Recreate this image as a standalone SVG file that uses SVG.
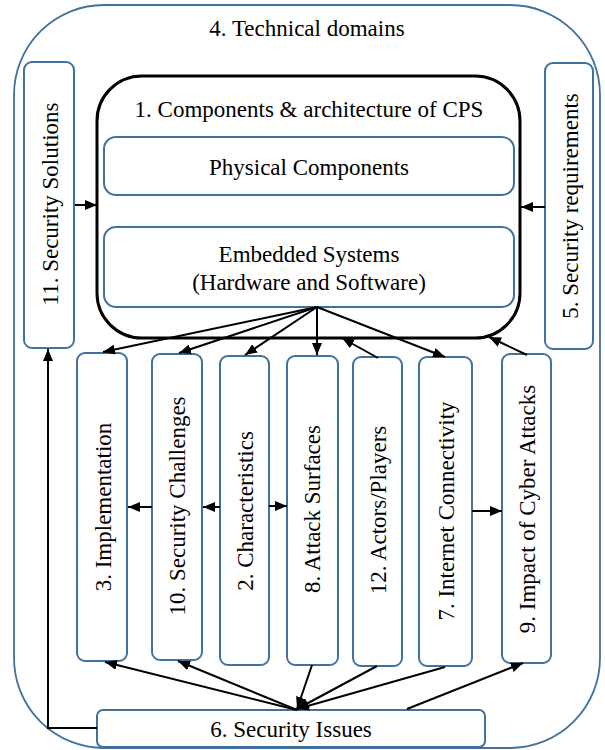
<svg xmlns="http://www.w3.org/2000/svg" width="605" height="750" viewBox="0 0 605 750">
<style>
text{font-family:'Liberation Serif','DejaVu Serif',serif;font-size:23px;fill:#000;text-anchor:middle}
.b{fill:#fff;stroke:#41719C;stroke-width:2}
.c{fill:none;stroke:#000;stroke-width:2}
</style>
<defs>
<marker id="ah" markerUnits="userSpaceOnUse" markerWidth="12" markerHeight="10" refX="12" refY="5" orient="auto">
<path d="M0,0 L12,5 L0,10 z" fill="#000"/>
</marker>
</defs>
<rect width="605" height="750" fill="#fff"/>
<g id="technical-domains">
<rect x="14" y="5" width="586" height="743" rx="90" ry="90" fill="#fff" stroke="#41719C" stroke-width="1.8"/>
<text x="307" y="36">4. Technical domains</text>
</g>
<g id="security-solutions">
<rect class="b" x="24" y="62" width="50" height="286" rx="8"/>
<text transform="translate(58,204) rotate(-90)">11. Security Solutions</text>
</g>
<g id="security-requirements">
<rect class="b" x="545" y="63" width="48" height="286" rx="8"/>
<text transform="translate(578,206) rotate(-90)">5. Security requirements</text>
</g>
<g id="cps">
<rect x="97" y="76" width="423" height="262" rx="45" ry="45" fill="#fff" stroke="#000" stroke-width="3"/>
<text x="309" y="117">1. Components &amp; architecture of CPS</text>
</g>
<g id="physical-components">
<rect class="b" x="104" y="137" width="410" height="58" rx="12"/>
<text x="309" y="175">Physical Components</text>
</g>
<g id="embedded-systems">
<rect class="b" x="104" y="227" width="410" height="80" rx="12"/>
<text x="309" y="262">Embedded Systems</text>
<text x="309" y="290">(Hardware and Software)</text>
</g>
<g id="implementation">
<rect class="b" x="77" y="353" width="50" height="308" rx="8"/>
<text transform="translate(111,507) rotate(-90)">3. Implementation</text>
</g>
<g id="security-challenges">
<rect class="b" x="152" y="354" width="50" height="306" rx="8"/>
<text transform="translate(185,506) rotate(-90)">10. Security Challenges</text>
</g>
<g id="characteristics">
<rect class="b" x="220" y="356" width="49" height="309" rx="8"/>
<text transform="translate(253,511) rotate(-90)">2. Characteristics</text>
</g>
<g id="attack-surfaces">
<rect class="b" x="287" y="356" width="51" height="309" rx="8"/>
<text transform="translate(320,509) rotate(-90)">8. Attack Surfaces</text>
</g>
<g id="actors-players">
<rect class="b" x="353" y="357" width="49" height="309" rx="8"/>
<text transform="translate(386,510) rotate(-90)">12. Actors/Players</text>
</g>
<g id="internet-connectivity">
<rect class="b" x="419" y="357" width="53" height="309" rx="8"/>
<text transform="translate(454,511) rotate(-90)">7. Internet Connectivity</text>
</g>
<g id="impact-cyber-attacks">
<rect class="b" x="502" y="354" width="49" height="309" rx="8"/>
<text transform="translate(535,509) rotate(-90)">9. Impact of Cyber Attacks</text>
</g>
<g id="security-issues">
<rect class="b" x="97" y="710" width="388" height="37" rx="6"/>
<text x="291" y="737">6. Security Issues</text>
</g>
<g id="connectors">
<line class="c" x1="75" y1="205" x2="97" y2="205" marker-end="url(#ah)"/>
<line class="c" x1="545" y1="207" x2="521" y2="207" marker-end="url(#ah)"/>
<line class="c" x1="317" y1="307" x2="103" y2="352" marker-end="url(#ah)"/>
<line class="c" x1="317" y1="307" x2="179" y2="353" marker-end="url(#ah)"/>
<line class="c" x1="317" y1="307" x2="245" y2="355" marker-end="url(#ah)"/>
<line class="c" x1="317" y1="307" x2="317" y2="355" marker-end="url(#ah)"/>
<line class="c" x1="317" y1="307" x2="445" y2="357" marker-end="url(#ah)"/>
<line class="c" x1="378" y1="358" x2="342" y2="338" marker-end="url(#ah)"/>
<line class="c" x1="527" y1="355" x2="489" y2="337" marker-end="url(#ah)"/>
<line class="c" x1="152" y1="507" x2="128" y2="507" marker-end="url(#ah)"/>
<line class="c" x1="220" y1="507" x2="203" y2="507" marker-end="url(#ah)"/>
<line class="c" x1="269" y1="506" x2="287" y2="506" marker-end="url(#ah)"/>
<line class="c" x1="472" y1="511" x2="502" y2="511" marker-end="url(#ah)"/>
<line class="c" x1="297" y1="710" x2="105" y2="662" marker-end="url(#ah)"/>
<line class="c" x1="297" y1="710" x2="178" y2="661" marker-end="url(#ah)"/>
<line class="c" x1="312" y1="665" x2="297" y2="709" marker-end="url(#ah)"/>
<line class="c" x1="377" y1="666" x2="297" y2="709" marker-end="url(#ah)"/>
<line class="c" x1="445" y1="667" x2="297" y2="709" marker-end="url(#ah)"/>
<line class="c" x1="407" y1="709" x2="523" y2="663" marker-end="url(#ah)"/>
<polyline class="c" points="97,728 48,728 48,349" marker-end="url(#ah)"/>
</g>
</svg>
